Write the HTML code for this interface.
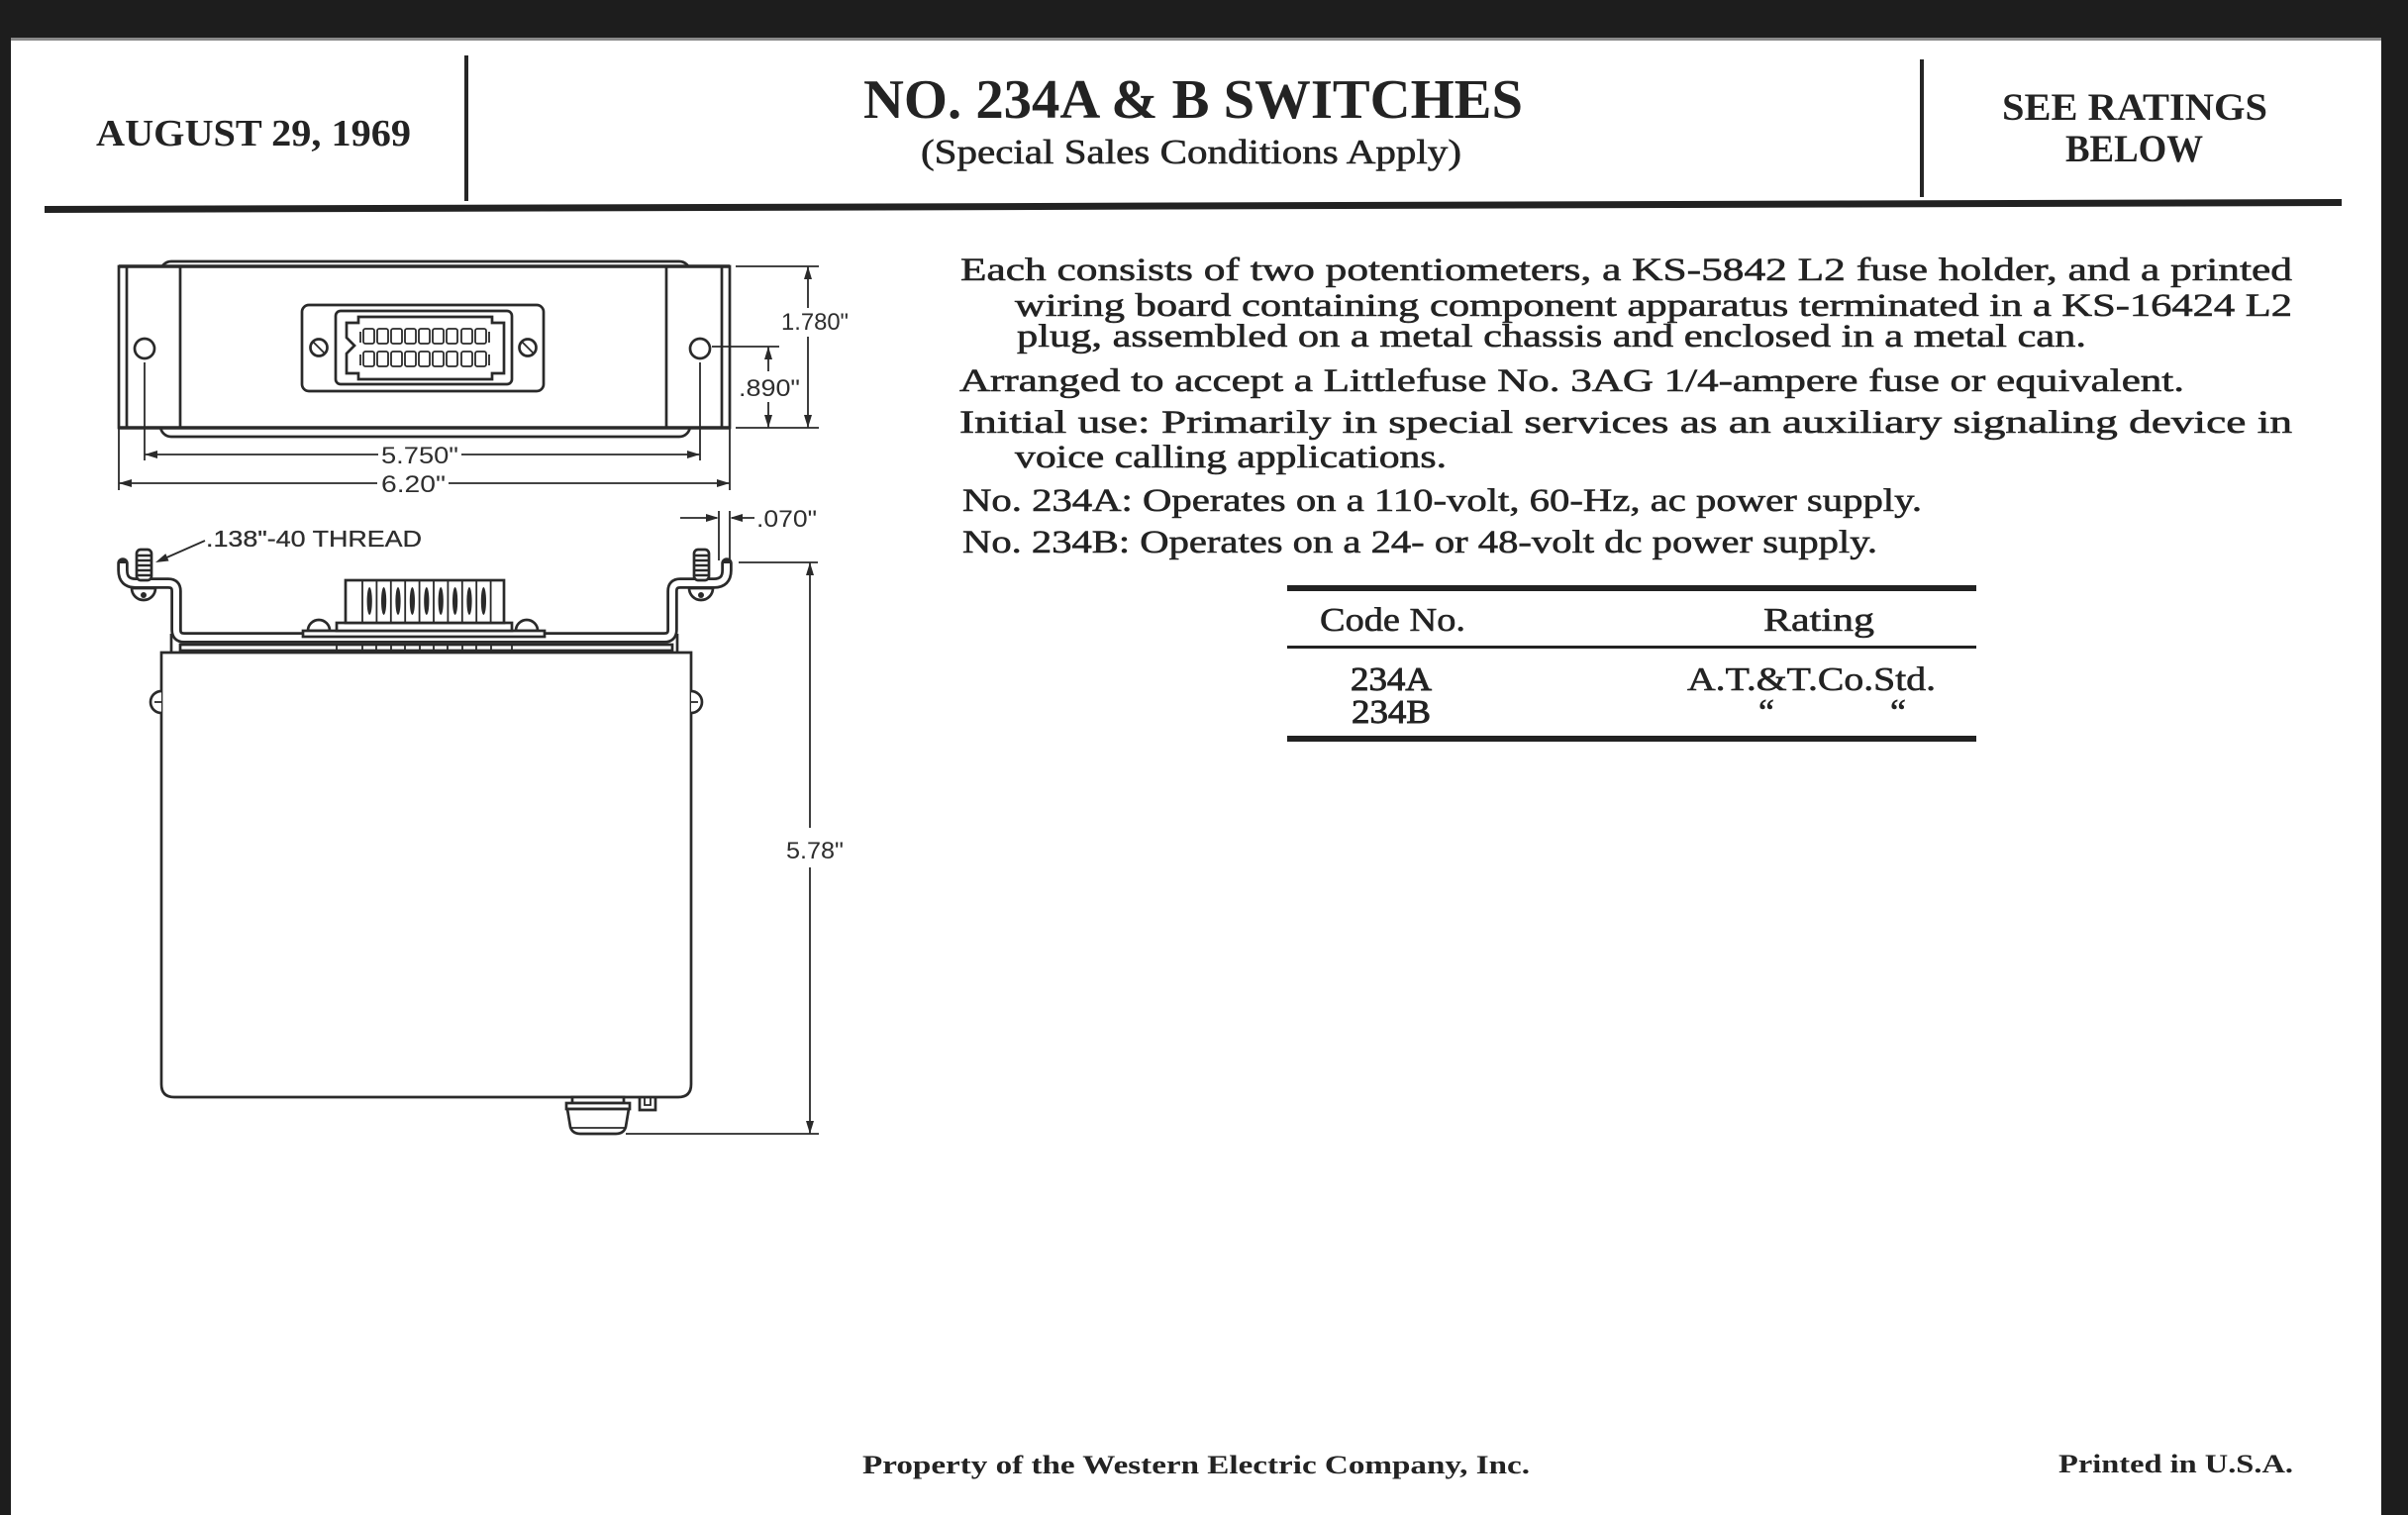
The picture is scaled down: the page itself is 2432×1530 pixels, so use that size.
<!DOCTYPE html>
<html>
<head>
<meta charset="utf-8">
<style>
html,body{margin:0;padding:0;background:#fff;}
svg{display:block;}
.serif{font-family:"Liberation Serif",serif;fill:#232323;}
.b{font-weight:bold;}
.heavy{stroke:#232323;stroke-width:0.6;}
.sans{font-family:"Liberation Sans",sans-serif;fill:#2e2e2e;}
.ln{stroke:#2a2a2a;stroke-width:2.7;fill:none;}
.lnw{stroke:#2a2a2a;stroke-width:2.7;fill:#fff;}
.th{stroke:#2a2a2a;stroke-width:1.8;fill:none;}
.ar{fill:#2a2a2a;stroke:none;}
</style>
</head>
<body>
<svg width="2432" height="1530" viewBox="0 0 2432 1530" xmlns="http://www.w3.org/2000/svg">
<!-- paper and scanner borders -->
<rect x="0" y="0" width="2432" height="1530" fill="#ffffff"/>
<rect x="0" y="0" width="2432" height="40" fill="#1d1d1d"/>
<rect x="0" y="0" width="11" height="1530" fill="#1d1d1d"/>
<rect x="2405" y="0" width="27" height="1530" fill="#1d1d1d"/>
<rect x="11" y="38" width="2394" height="3" fill="#8a8a8a"/>

<!-- header -->
<text class="serif b" x="97" y="147" font-size="38" textLength="318" lengthAdjust="spacingAndGlyphs">AUGUST 29, 1969</text>
<rect x="469" y="56" width="4" height="147" fill="#262626"/>
<text class="serif b" x="872" y="119" font-size="56" textLength="666" lengthAdjust="spacingAndGlyphs">NO. 234A &amp; B SWITCHES</text>
<text class="serif heavy" x="930" y="165" font-size="35" textLength="546" lengthAdjust="spacingAndGlyphs">(Special Sales Conditions Apply)</text>
<rect x="1939" y="60" width="4" height="139" fill="#262626"/>
<text class="serif b" x="2022" y="121" font-size="39" textLength="268" lengthAdjust="spacingAndGlyphs">SEE RATINGS</text>
<text class="serif b" x="2086" y="163" font-size="39" textLength="139" lengthAdjust="spacingAndGlyphs">BELOW</text>
<polygon points="45,208 2365,201 2365,208 45,215" fill="#222"/>

<!-- body text -->
<g class="serif heavy" font-size="33">
<text x="970" y="283" textLength="1345" lengthAdjust="spacingAndGlyphs">Each consists of two potentiometers, a KS-5842 L2 fuse holder, and a printed</text>
<text x="1025" y="319" textLength="1290" lengthAdjust="spacingAndGlyphs">wiring board containing component apparatus terminated in a KS-16424 L2</text>
<text x="1027" y="350" textLength="1080" lengthAdjust="spacingAndGlyphs">plug, assembled on a metal chassis and enclosed in a metal can.</text>
<text x="969" y="395" textLength="1237" lengthAdjust="spacingAndGlyphs">Arranged to accept a Littlefuse No. 3AG 1/4-ampere fuse or equivalent.</text>
<text x="969" y="437" textLength="1346" lengthAdjust="spacingAndGlyphs">Initial use: Primarily in special services as an auxiliary signaling device in</text>
<text x="1025" y="472" textLength="436" lengthAdjust="spacingAndGlyphs">voice calling applications.</text>
<text x="972" y="516" textLength="969" lengthAdjust="spacingAndGlyphs">No. 234A: Operates on a 110-volt, 60-Hz, ac power supply.</text>
<text x="972" y="558" textLength="924" lengthAdjust="spacingAndGlyphs">No. 234B: Operates on a 24- or 48-volt dc power supply.</text>
</g>

<!-- table -->
<rect x="1300" y="591" width="696" height="6" fill="#222"/>
<text class="serif heavy" x="1333" y="637" font-size="34" textLength="147" lengthAdjust="spacingAndGlyphs">Code No.</text>
<text class="serif heavy" x="1781" y="637" font-size="34" textLength="112" lengthAdjust="spacingAndGlyphs">Rating</text>
<rect x="1300" y="652" width="696" height="3" fill="#222"/>
<text class="serif" x="1364" y="697" font-size="34" textLength="82" lengthAdjust="spacingAndGlyphs" style="stroke:#232323;stroke-width:0.9">234A</text>
<text class="serif" x="1365" y="730" font-size="34" textLength="80" lengthAdjust="spacingAndGlyphs" style="stroke:#232323;stroke-width:0.9">234B</text>
<text class="serif heavy" x="1704" y="697" font-size="34" textLength="251" lengthAdjust="spacingAndGlyphs">A.T.&amp;T.Co.Std.</text>
<text class="serif heavy" x="1776" y="731" font-size="36">“</text>
<text class="serif heavy" x="1909" y="731" font-size="36">“</text>
<rect x="1300" y="743" width="696" height="6" fill="#222"/>

<!-- footer -->
<text class="serif b" x="871" y="1488" font-size="26" textLength="674" lengthAdjust="spacingAndGlyphs">Property of the Western Electric Company, Inc.</text>
<text class="serif b" x="2079" y="1487" font-size="26" textLength="237" lengthAdjust="spacingAndGlyphs">Printed in U.S.A.</text>

<!-- ============ TOP VIEW ============ -->
<rect x="162" y="264" width="535" height="177" rx="11" class="lnw"/>
<rect x="120" y="269" width="617" height="163" class="lnw"/>
<line x1="128" y1="269" x2="128" y2="432" class="ln"/>
<line x1="729" y1="269" x2="729" y2="432" class="ln"/>
<line x1="182" y1="269" x2="182" y2="432" class="ln"/>
<line x1="673" y1="269" x2="673" y2="432" class="ln"/>
<line x1="120" y1="269" x2="737" y2="269" stroke="#2a2a2a" stroke-width="3.5"/>
<line x1="120" y1="432" x2="737" y2="432" stroke="#2a2a2a" stroke-width="3.5"/>
<circle cx="146" cy="352" r="10" class="ln"/>
<circle cx="707" cy="352" r="10" class="ln"/>
<!-- connector -->
<rect x="305" y="308" width="244" height="87" rx="7" class="ln"/>
<rect x="339" y="314" width="178" height="74" rx="5" class="ln"/>
<path d="M362,320 L497,320 L497,326 L509,326 L509,377 L497,377 L497,383 L362,383 L362,377 L350,377 L350,357 L358,349 L350,341 L350,326 L362,326 Z" class="ln"/>
<g class="th">
<rect x="367" y="332" width="11" height="15" rx="2"/><rect x="381" y="332" width="11" height="15" rx="2"/><rect x="395" y="332" width="11" height="15" rx="2"/>
<rect x="409" y="332" width="11" height="15" rx="2"/><rect x="423" y="332" width="11" height="15" rx="2"/><rect x="437" y="332" width="11" height="15" rx="2"/>
<rect x="451" y="332" width="11" height="15" rx="2"/><rect x="466" y="332" width="11" height="15" rx="2"/><rect x="480" y="332" width="11" height="15" rx="2"/>
<rect x="367" y="355" width="11" height="15" rx="2"/><rect x="381" y="355" width="11" height="15" rx="2"/><rect x="395" y="355" width="11" height="15" rx="2"/>
<rect x="409" y="355" width="11" height="15" rx="2"/><rect x="423" y="355" width="11" height="15" rx="2"/><rect x="437" y="355" width="11" height="15" rx="2"/>
<rect x="451" y="355" width="11" height="15" rx="2"/><rect x="466" y="355" width="11" height="15" rx="2"/><rect x="480" y="355" width="11" height="15" rx="2"/>
<path d="M364,335 L364,346 M494,335 L494,346 M364,358 L364,369 M494,358 L494,369"/>
</g>
<circle cx="322" cy="351" r="8.5" class="ln"/>
<line x1="316" y1="345" x2="328" y2="357" class="th"/>
<circle cx="533" cy="351" r="8.5" class="ln"/>
<line x1="527" y1="345" x2="539" y2="357" class="th"/>
<!-- extension lines -->
<line x1="146" y1="366" x2="146" y2="465" class="th"/>
<line x1="707" y1="366" x2="707" y2="465" class="th"/>
<line x1="120" y1="432" x2="120" y2="495" class="th"/>
<line x1="737" y1="432" x2="737" y2="495" class="th"/>
<!-- 5.750 -->
<line x1="146" y1="459" x2="382" y2="459" class="th"/>
<line x1="466" y1="459" x2="707" y2="459" class="th"/>
<polygon class="ar" points="146,459 159,455 159,463"/>
<polygon class="ar" points="707,459 694,455 694,463"/>
<text class="sans" x="385" y="468" font-size="24" textLength="78" lengthAdjust="spacingAndGlyphs">5.750"</text>
<!-- 6.20 -->
<line x1="120" y1="488" x2="381" y2="488" class="th"/>
<line x1="453" y1="488" x2="737" y2="488" class="th"/>
<polygon class="ar" points="120,488 133,484 133,492"/>
<polygon class="ar" points="737,488 724,484 724,492"/>
<text class="sans" x="385" y="497" font-size="24" textLength="65" lengthAdjust="spacingAndGlyphs">6.20"</text>
<!-- 1.780 -->
<line x1="743" y1="269" x2="827" y2="269" class="th"/>
<line x1="743" y1="432" x2="827" y2="432" class="th"/>
<line x1="816" y1="269" x2="816" y2="311" class="th"/>
<line x1="816" y1="340" x2="816" y2="432" class="th"/>
<polygon class="ar" points="816,269 812,282 820,282"/>
<polygon class="ar" points="816,432 812,419 820,419"/>
<text class="sans" x="789" y="333" font-size="24" textLength="68" lengthAdjust="spacingAndGlyphs">1.780"</text>
<!-- .890 -->
<line x1="719" y1="350" x2="787" y2="350" class="th"/>
<line x1="776" y1="350" x2="776" y2="375" class="th"/>
<line x1="776" y1="406" x2="776" y2="432" class="th"/>
<polygon class="ar" points="776,350 772,363 780,363"/>
<polygon class="ar" points="776,432 772,419 780,419"/>
<text class="sans" x="746" y="400" font-size="24" textLength="62" lengthAdjust="spacingAndGlyphs">.890"</text>

<!-- ============ SIDE VIEW ============ -->
<text class="sans" x="208" y="552" font-size="23" textLength="218" lengthAdjust="spacingAndGlyphs" style="stroke:#2e2e2e;stroke-width:0.3">.138"-40 THREAD</text>
<line x1="207" y1="546" x2="165" y2="564.5" class="th"/>
<polygon class="ar" points="157,568 170.5,566.5 167.3,559.1"/>
<!-- can -->
<path d="M163,659 L163,1095 Q163,1108 176,1108 L685,1108 Q698,1108 698,1095 L698,659 Z" class="lnw"/>
<!-- side screws -->
<path d="M163,698 A11,11 0 0 0 163,720" class="lnw"/>
<line x1="156" y1="709" x2="163" y2="709" class="th"/>
<path d="M698,698 A11,11 0 0 1 698,720" class="lnw"/>
<line x1="698" y1="709" x2="705" y2="709" class="th"/>
<!-- bracket strap (outline via double stroke) -->
<path d="M124,569 L124,576 Q124,589 137,589 L170,589 Q178,589 178,597 L178,636 Q178,644 186,644 L671,644 Q679,644 679,636 L679,597 Q679,589 687,589 L721,589 Q734,589 734,576 L734,569" fill="none" stroke="#2a2a2a" stroke-width="11.5" stroke-linecap="round" stroke-linejoin="round"/>
<path d="M124,569 L124,576 Q124,589 137,589 L170,589 Q178,589 178,597 L178,636 Q178,644 186,644 L671,644 Q679,644 679,636 L679,597 Q679,589 687,589 L721,589 Q734,589 734,576 L734,569" fill="none" stroke="#fff" stroke-width="6" stroke-linecap="butt" stroke-linejoin="round"/>
<line x1="173" y1="640" x2="173" y2="658" class="ln"/>
<line x1="684" y1="640" x2="684" y2="658" class="ln"/>
<!-- plate -->
<rect x="182" y="651" width="497" height="6" class="lnw"/>
<!-- studs -->
<rect x="138" y="555" width="15" height="31" rx="4" class="lnw"/>
<path d="M139,561 L152,561 M139,566 L152,566 M139,571 L152,571 M139,576 L152,576 M139,581 L152,581" stroke="#2a2a2a" stroke-width="2.5"/>
<rect x="701" y="555" width="15" height="31" rx="4" class="lnw"/>
<path d="M702,561 L715,561 M702,566 L715,566 M702,571 L715,571 M702,576 L715,576 M702,581 L715,581" stroke="#2a2a2a" stroke-width="2.5"/>
<!-- nuts -->
<path d="M133,594 A12,12 0 0 0 157,594 Z" class="lnw"/>
<circle cx="145" cy="601" r="3" class="ar"/>
<path d="M696,594 A12,12 0 0 0 720,594 Z" class="lnw"/>
<circle cx="708" cy="601" r="3" class="ar"/>
<!-- connector side -->
<path d="M311,637 A11,11 0 0 1 333,637 Z" class="lnw"/>
<path d="M521,637 A11,11 0 0 1 543,637 Z" class="lnw"/>
<rect x="306" y="637" width="244" height="6" class="lnw"/>
<rect x="340" y="629" width="177" height="8" class="lnw"/>
<rect x="349" y="586" width="160" height="43" class="lnw"/>
<g class="th">
<path d="M366,586 L366,629 M380.4,586 L380.4,629 M394.8,586 L394.8,629 M409.2,586 L409.2,629 M423.6,586 L423.6,629 M438,586 L438,629 M452.4,586 L452.4,629 M466.8,586 L466.8,629 M481.2,586 L481.2,629 M495.6,586 L495.6,629"/>
<path d="M340,651 L340,659 M517,651 L517,659 M366,651 L366,659 M380,651 L380,659 M395,651 L395,659 M409,651 L409,659 M424,651 L424,659 M438,651 L438,659 M452,651 L452,659 M467,651 L467,659 M481,651 L481,659 M496,651 L496,659"/>
</g>
<g class="ar">
<ellipse cx="373.2" cy="607" rx="2.6" ry="14"/><ellipse cx="387.6" cy="607" rx="2.6" ry="14"/><ellipse cx="402" cy="607" rx="2.6" ry="14"/>
<ellipse cx="416.4" cy="607" rx="2.6" ry="14"/><ellipse cx="430.8" cy="607" rx="2.6" ry="14"/><ellipse cx="445.2" cy="607" rx="2.6" ry="14"/>
<ellipse cx="459.6" cy="607" rx="2.6" ry="14"/><ellipse cx="474" cy="607" rx="2.6" ry="14"/><ellipse cx="488.4" cy="607" rx="2.6" ry="14"/>
</g>
<!-- fuse holder knob -->
<rect x="578" y="1108" width="52" height="6" class="lnw"/>
<rect x="572" y="1114" width="64" height="6" class="lnw"/>
<path d="M573,1120 L576,1138 Q578,1145 586,1145 L622,1145 Q630,1145 632,1138 L635,1120 Z" class="lnw"/>
<line x1="577" y1="1139" x2="631" y2="1139" class="th"/>
<!-- small tab -->
<path d="M646,1108 L646,1121 L662,1121 L662,1108" class="ln"/>
<path d="M651,1108 L651,1116 L657,1116 L657,1108" class="th"/>
<!-- .070 -->
<line x1="726" y1="516" x2="726" y2="566" class="th"/>
<line x1="737" y1="516" x2="737" y2="566" class="th"/>
<line x1="687" y1="523" x2="724" y2="523" class="th"/>
<polygon class="ar" points="726,523 713,519 713,527"/>
<line x1="739" y1="523" x2="762" y2="523" class="th"/>
<polygon class="ar" points="737,523 750,519 750,527"/>
<text class="sans" x="764" y="532" font-size="24" textLength="61" lengthAdjust="spacingAndGlyphs">.070"</text>
<!-- 5.78 -->
<line x1="746" y1="568" x2="826" y2="568" class="th"/>
<line x1="632" y1="1145" x2="827" y2="1145" class="th"/>
<line x1="818" y1="568" x2="818" y2="836" class="th"/>
<line x1="818" y1="876" x2="818" y2="1145" class="th"/>
<polygon class="ar" points="818,568 814,581 822,581"/>
<polygon class="ar" points="818,1145 814,1132 822,1132"/>
<text class="sans" x="794" y="867" font-size="24" textLength="58" lengthAdjust="spacingAndGlyphs">5.78"</text>
</svg>
</body>
</html>
